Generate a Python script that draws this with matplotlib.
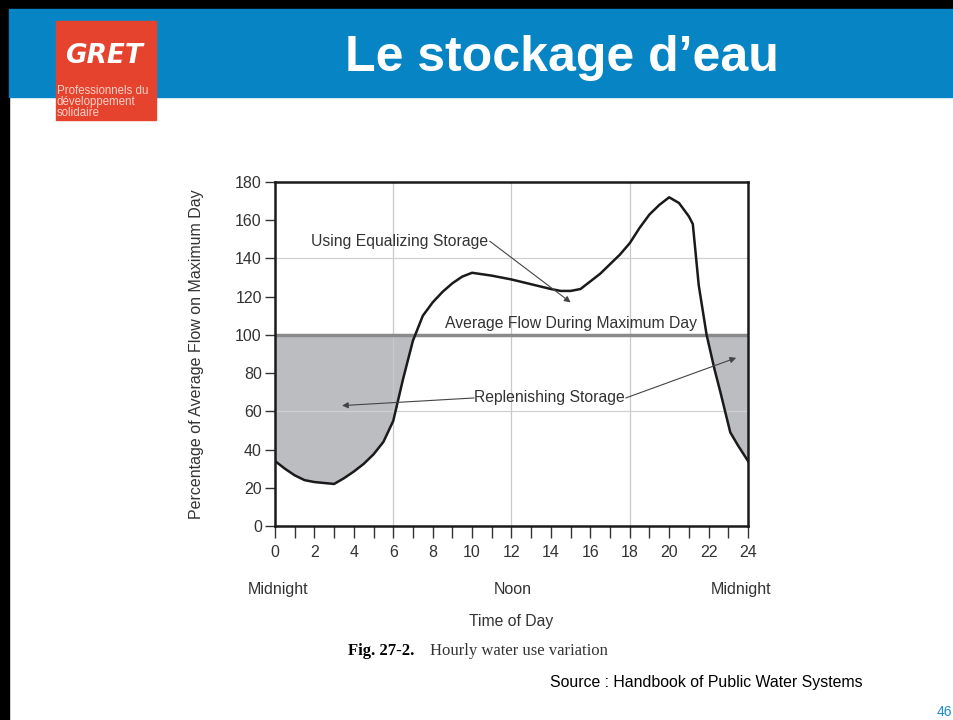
import matplotlib.pyplot as plt
import numpy as np
from matplotlib.patches import Rectangle

plt.rcParams['font.family'] = ['Liberation Sans', 'DejaVu Sans']

# hourly flow, percent of average flow on maximum day
hours = [0, 0.5, 1, 1.5, 2, 2.5, 3, 3.5, 4, 4.5, 5, 5.5, 6, 6.5, 7, 7.5, 8, 8.5,
         9, 9.5, 10, 11, 12, 13, 14, 14.5, 15, 15.5, 16, 16.5, 17, 17.5, 18,
         18.5, 19, 19.5, 20, 20.5, 21, 21.2, 21.5, 21.9, 22.3, 22.6, 23.1, 23.5, 24]
flow = [34, 30, 26.5, 24, 23, 22.5, 22, 25, 28.5, 32.5, 37.5, 44, 55, 77, 97, 110,
        117, 122.5, 127, 130.5, 132.5, 131, 129, 126.5, 124, 123, 123, 124, 128,
        132, 137, 142, 148, 156, 163, 168, 172, 169, 162, 158, 126, 100, 82, 70,
        49, 42, 34]
avg_flow = 100
xticks = list(range(0, 25, 2))
yticks = list(range(0, 181, 20))
period_labels = ['Midnight', 'Noon', 'Midnight']
period_pos = [0.18, 12.05, 23.65]

W, H = 954, 720
fig = plt.figure(figsize=(W / 100, H / 100), dpi=100)
fig.patch.set_facecolor('white')

def px(x, y, w, h):
    return (x / W, 1 - (y + h) / H, w / W, h / H)

# slide decoration
deco = fig.add_axes([0, 0, 1, 1])
deco.set_xlim(0, W)
deco.set_ylim(H, 0)
deco.axis('off')
deco.add_patch(Rectangle((0, 0), W, 9, color='black'))
deco.add_patch(Rectangle((0, 0), 9, H, color='black'))
deco.add_patch(Rectangle((9, 9), W - 9, 88, color='#0784c3'))
deco.add_patch(Rectangle((56, 21), 100, 99, color='#e5432e'))
deco.text(104, 56, 'GRET', color='white', fontsize=19, style='italic',
          fontweight='bold', ha='center', va='center', family='DejaVu Sans')
deco.text(57, 102, 'Professionnels du\ndéveloppement\nsolidaire',
          color='#f6d0c8', fontsize=8.3, ha='left', va='center',
          linespacing=0.85)
deco.text(562, 58, 'Le stockage d\u2019eau', color='white', fontsize=36,
          fontweight='bold', ha='center', va='center')
deco.text(550, 682, 'Source : Handbook of Public Water Systems', fontsize=11.4,
          ha='left', va='center')
deco.text(952, 712, '46', color='#1a8ad0', fontsize=10, ha='right', va='center')

# chart
ax = fig.add_axes(px(275, 182, 473, 344))
ax.set_xlim(0, 24)
ax.set_ylim(0, 180)

hrs = np.array(hours)
fl = np.array(flow)
ax.fill_between(hrs, fl, avg_flow, where=fl < avg_flow, interpolate=True,
                color='#bcbdc1', lw=0)
for g in [6, 12, 18]:
    ax.axvline(g, color='#c8c8c8', lw=0.9, zorder=1)
for g in [60, 140]:
    ax.axhline(g, color='#d0d0d0', lw=0.9, zorder=1)
ax.axhline(avg_flow, color='#8a8a8a', lw=2.5, zorder=2)
ax.plot(hrs, fl, color='#1a1a1a', lw=1.8, zorder=3)

for s in ax.spines.values():
    s.set_linewidth(1.8)
    s.set_color('#1a1a1a')

ax.set_xticks(range(0, 25))
ax.set_xticklabels([str(h) if h in xticks else '' for h in range(0, 25)])
ax.set_yticks(yticks)
ax.tick_params(axis='x', direction='out', length=8.5, width=1, pad=5,
               labelsize=11.5, colors='#333333')
ax.tick_params(axis='y', direction='out', length=7.5, width=1, pad=2,
               labelsize=11.5, colors='#333333')
ax.set_ylabel('Percentage of Average Flow on Maximum Day', fontsize=11.5,
              color='#333333', labelpad=22)

arrow = dict(arrowstyle='-|>', lw=0.8, color='#444444', mutation_scale=9,
             shrinkA=0, shrinkB=0)
ax.text(6.3, 149, 'Using Equalizing Storage', fontsize=11.3, color='#333333',
        ha='center', va='center')
ax.annotate('', xy=(15, 117), xytext=(10.9, 149), arrowprops=arrow)
ax.text(15.0, 106, 'Average Flow During Maximum Day', fontsize=11.3,
        color='#333333', ha='center', va='center')
ax.text(13.9, 67, 'Replenishing Storage', fontsize=11.3, color='#333333',
        ha='center', va='center')
ax.annotate('', xy=(3.4, 63), xytext=(10.1, 67), arrowprops=arrow)
ax.annotate('', xy=(23.4, 88), xytext=(17.8, 67), arrowprops=arrow)

for lab, pos in zip(period_labels, period_pos):
    ax.text(pos, -33, lab, fontsize=11.5, color='#333333', ha='center',
            va='center', clip_on=False)
ax.text(12, -50, 'Time of Day', fontsize=11.3, color='#333333', ha='center',
        va='center', clip_on=False)

deco.text(348, 651, 'Fig. 27-2.', fontsize=12, fontweight='bold',
          family='Liberation Serif', ha='left', va='center')
deco.text(430, 651, 'Hourly water use variation', fontsize=12,
          family='Liberation Serif', ha='left', va='center', color='#333333')

fig.savefig('out.png', dpi=100)
